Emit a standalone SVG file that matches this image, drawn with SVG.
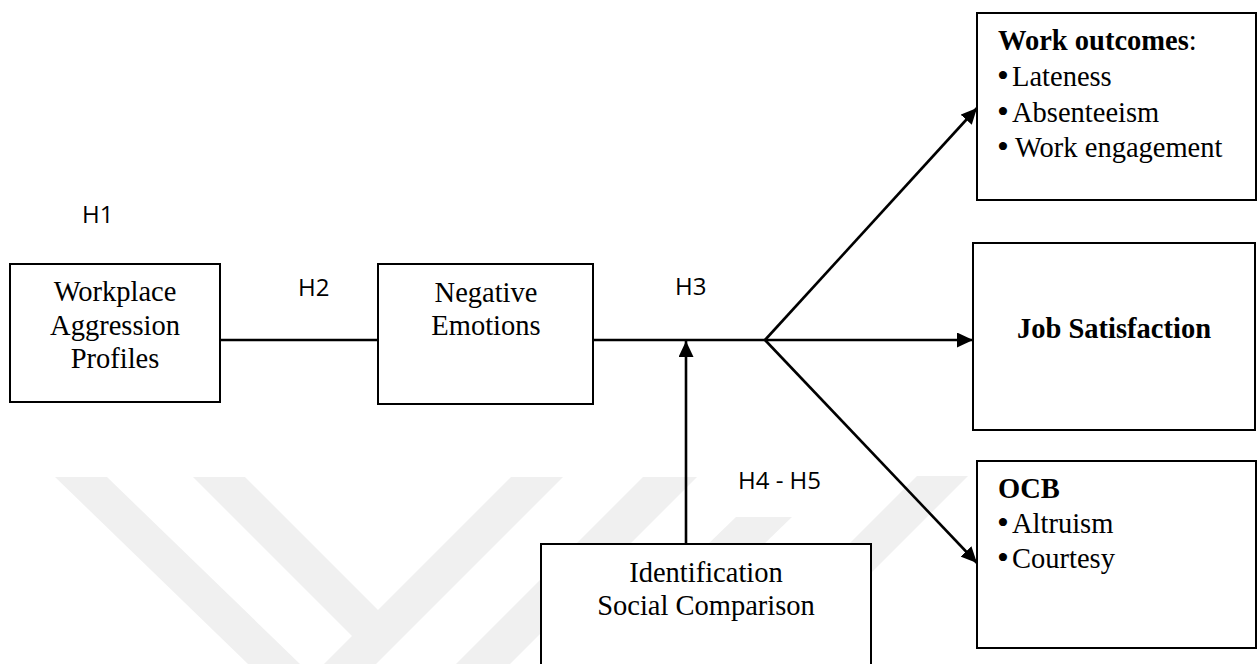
<svg xmlns="http://www.w3.org/2000/svg" width="1260" height="664" viewBox="0 0 1260 664">
<style>
.wm{fill:#f0f0f0;stroke:none}
.box{fill:#ffffff;stroke:#000;stroke-width:2}
.t{font-family:"Liberation Serif","Times New Roman",serif;font-size:28.5px;fill:#000}
.bu{font-size:34px}
.c{text-anchor:middle}
.b{font-weight:bold}
.h{font-family:"Open Sans","Liberation Sans",Arial,sans-serif;font-size:24px;fill:#000}
.ln{fill:none;stroke:#000;stroke-width:2.6}
</style>
<defs>
<marker id="arr" markerUnits="userSpaceOnUse" markerWidth="17" markerHeight="15" refX="16" refY="7.5" orient="auto">
<path d="M0,0 L16,7.5 L0,15 Z" fill="#000"/>
</marker>
</defs>
<rect width="1260" height="664" fill="#fff"/>
<g id="watermark">
<polygon class="wm" points="55,477 107,477 300,664 248,664"/>
<polygon class="wm" points="193,477 245,477 378,610 511,477 563,477 376,664 324,664 352,636"/>
<polygon class="wm" points="643,477 697,477 510,664 456,664"/>
<polygon class="wm" points="736,517 792,517 640,664 584,664"/>
<polygon class="wm" points="917,476 968,476 820,624 769,624"/>
</g>
<g id="connectors">
<line class="ln" x1="220" y1="340" x2="378" y2="340"/>
<line class="ln" x1="593" y1="340" x2="765" y2="340"/>
<line class="ln" x1="765" y1="340" x2="973" y2="340" marker-end="url(#arr)"/>
<line class="ln" x1="765" y1="340" x2="977" y2="108" marker-end="url(#arr)"/>
<line class="ln" x1="765" y1="340" x2="977" y2="563" marker-end="url(#arr)"/>
<line class="ln" x1="686" y1="544" x2="686" y2="341" marker-end="url(#arr)"/>
</g>
<g id="labels">
<text class="h" x="82" y="223">H1</text>
<text class="h" x="298" y="296">H2</text>
<text class="h" x="675" y="295">H3</text>
<text class="h" x="738" y="489">H4 - H5</text>
</g>
<g id="node-workplace">
<rect class="box" x="10" y="264" width="210" height="138"/>
<text class="t c" x="115" y="301">Workplace</text>
<text class="t c" x="115" y="335">Aggression</text>
<text class="t c" x="115" y="368">Profiles</text>
</g>
<g id="node-negative">
<rect class="box" x="378" y="264" width="215" height="140"/>
<text class="t c" x="486" y="302">Negative</text>
<text class="t c" x="486" y="335">Emotions</text>
</g>
<g id="node-identification">
<rect class="box" x="541" y="544" width="330" height="126"/>
<text class="t c" x="706" y="582">Identification</text>
<text class="t c" x="706" y="615">Social Comparison</text>
</g>
<g id="node-work-outcomes">
<rect class="box" x="977" y="13" width="279" height="187"/>
<text class="t" x="998" y="50"><tspan class="b">Work outcomes</tspan>:</text>
<text class="t" y="86"><tspan class="bu" x="997" dy="1">•</tspan><tspan x="1012" dy="-1">Lateness</tspan></text>
<text class="t" y="122"><tspan class="bu" x="997" dy="1">•</tspan><tspan x="1012" dy="-1">Absenteeism</tspan></text>
<text class="t" y="157"><tspan class="bu" x="997" dy="1">•</tspan><tspan x="1015" dy="-1">Work engagement</tspan></text>
</g>
<g id="node-job-satisfaction">
<rect class="box" x="973" y="243" width="282" height="187"/>
<text class="t c b" x="1114" y="338">Job Satisfaction</text>
</g>
<g id="node-ocb">
<rect class="box" x="977" y="461" width="279" height="187"/>
<text class="t b" x="998" y="498">OCB</text>
<text class="t" y="533"><tspan class="bu" x="997" dy="1">•</tspan><tspan x="1012" dy="-1">Altruism</tspan></text>
<text class="t" y="568"><tspan class="bu" x="997" dy="1">•</tspan><tspan x="1012" dy="-1">Courtesy</tspan></text>
</g>
</svg>
